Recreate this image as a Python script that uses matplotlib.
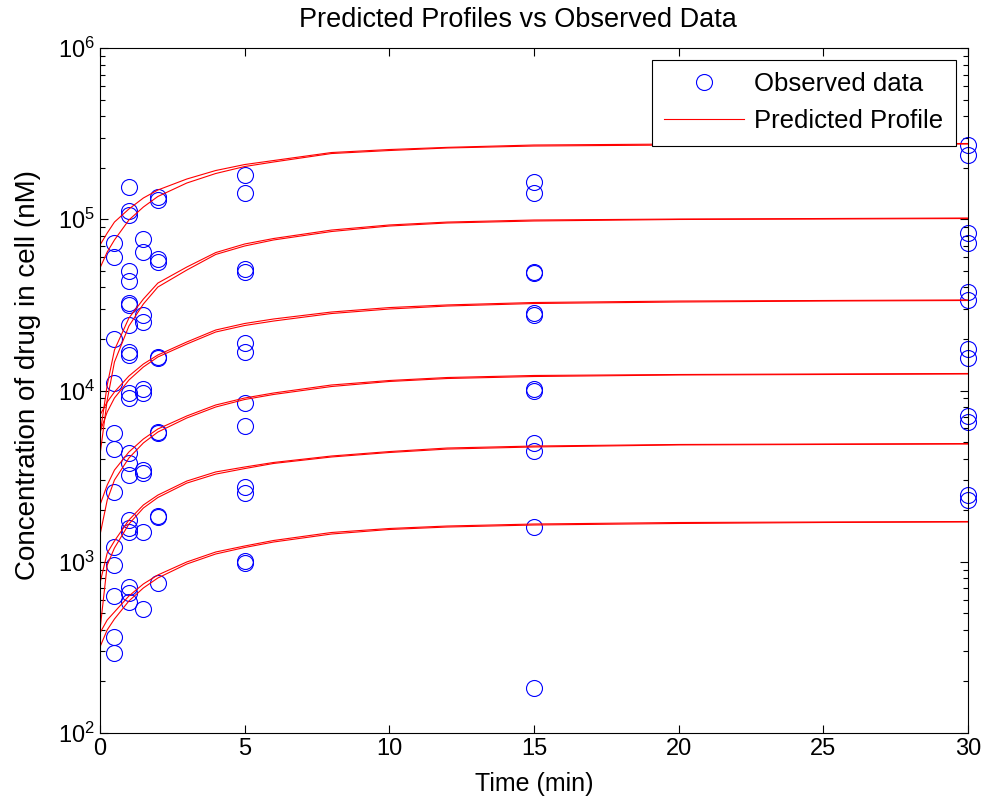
import numpy as np
import matplotlib
matplotlib.use("Agg")
import matplotlib.pyplot as plt

plt.rcParams['font.family'] = ['Liberation Sans', 'DejaVu Sans']
plt.rcParams['mathtext.fontset'] = 'custom'
plt.rcParams['mathtext.rm'] = 'Liberation Sans'
plt.rcParams['mathtext.it'] = 'Liberation Sans'

# observed concentrations (nM) at each sampling time (min)
obs_times = [0.5, 1, 1.5, 2, 5, 15, 30]
conc_t05 = [7.27e4, 6.02e4, 2.00e4, 1.106e4, 5.65e3, 4.55e3, 2.555e3, 1.22e3,
            957, 631, 364, 293]
conc_t1 = [1.543e5, 1.117e5, 1.059e5, 4.99e4, 4.36e4, 3.24e4, 3.16e4, 2.41e4,
           1.678e4, 1.612e4, 9.67e3, 9.04e3, 4.32e3, 3.77e3, 3.21e3, 1.753e3,
           1.574e3, 1.492e3, 712, 657, 582]
conc_t15 = [7.67e4, 6.44e4, 2.76e4, 2.51e4, 1.02e4, 9.67e3, 3.43e3, 3.30e3,
            1.492e3, 530]
conc_t2 = [1.349e5, 1.295e5, 5.86e4, 5.63e4, 1.569e4, 1.54e4, 5.72e3, 5.65e3,
           1.85e3, 1.825e3, 751]
conc_t5 = [1.813e5, 1.423e5, 5.12e4, 4.92e4, 1.894e4, 1.678e4, 8.45e3, 6.20e3,
           2.73e3, 2.52e3, 1.01e3, 983]
conc_t15b = [1.650e5, 1.423e5, 4.92e4, 4.86e4, 2.84e4, 2.76e4, 1.02e4, 1.0e4,
             4.94e3, 4.43e3, 1.595e3, 183]
conc_t30 = [2.714e5, 2.372e5, 8.31e4, 7.27e4, 3.76e4, 3.38e4, 1.747e4, 1.548e4,
            7.10e3, 6.55e3, 2.45e3, 2.29e3]
obs_conc = [conc_t05, conc_t1, conc_t15, conc_t2, conc_t5, conc_t15b, conc_t30]

# predicted profiles, two model runs (a, b) for each of six dose levels
pred_t = [0, 0.25, 0.5, 1, 1.5, 2, 3, 4, 5, 6, 8, 10, 12, 15, 20, 25, 30]
pred_a = [
    [7.07e4, 8.31e4, 9.63e4, 1.148e5, 1.331e5, 1.482e5, 1.718e5, 1.926e5, 2.087e5,
     2.203e5, 2.453e5, 2.554e5, 2.630e5, 2.714e5, 2.750e5, 2.762e5, 2.769e5],
    [5.50e3, 1.077e4, 1.724e4, 2.65e4, 3.42e4, 4.24e4, 5.26e4, 6.39e4, 7.17e4,
     7.72e4, 8.65e4, 9.26e4, 9.63e4, 9.90e4, 1.003e5, 1.010e5, 1.017e5],
    [7.19e3, 8.57e3, 9.80e3, 1.215e4, 1.428e4, 1.612e4, 1.920e4, 2.256e4, 2.462e4,
     2.616e4, 2.873e4, 3.05e4, 3.16e4, 3.265e4, 3.33e4, 3.354e4, 3.38e4],
    [2.145e3, 2.806e3, 3.43e3, 4.375e3, 5.21e3, 5.96e3, 7.10e3, 8.23e3, 9.04e3,
     9.67e3, 1.077e4, 1.144e4, 1.191e4, 1.224e4, 1.240e4, 1.249e4, 1.257e4],
    [751, 1.125e3, 1.322e3, 1.753e3, 2.145e3, 2.45e3, 2.96e3, 3.345e3, 3.575e3,
     3.80e3, 4.145e3, 4.40e3, 4.615e3, 4.74e3, 4.84e3, 4.87e3, 4.90e3],
    [384, 457, 509, 631, 742, 837, 997, 1.140e3, 1.236e3, 1.331e3, 1.482e3,
     1.564e3, 1.617e3, 1.661e3, 1.695e3, 1.707e3, 1.718e3],
]
pred_b = [
    [5.19e4, 6.44e4, 7.57e4, 9.90e4, 1.179e5, 1.358e5, 1.628e5, 1.850e5, 2.032e5,
     2.160e5, 2.420e5, 2.520e5, 2.607e5, 2.677e5, 2.714e5, 2.732e5, 2.750e5],
    [4.20e3, 8.80e3, 1.467e4, 2.38e4, 3.20e4, 4.02e4, 5.05e4, 6.23e4, 6.98e4,
     7.57e4, 8.48e4, 9.13e4, 9.51e4, 9.77e4, 9.97e4, 1.003e5, 1.010e5],
    [5.72e3, 7.49e3, 9.04e3, 1.151e4, 1.372e4, 1.569e4, 1.868e4, 2.196e4, 2.396e4,
     2.545e4, 2.815e4, 2.991e4, 3.114e4, 3.221e4, 3.287e4, 3.33e4, 3.354e4],
    [1.433e3, 2.29e3, 3.00e3, 4.035e3, 4.94e3, 5.72e3, 6.91e3, 8.01e3, 8.86e3,
     9.48e3, 1.055e4, 1.129e4, 1.175e4, 1.207e4, 1.232e4, 1.240e4, 1.249e4],
    [400, 957, 1.203e3, 1.661e3, 2.06e3, 2.372e3, 2.88e3, 3.25e3, 3.50e3,
     3.75e3, 4.09e3, 4.345e3, 4.55e3, 4.68e3, 4.81e3, 4.84e3, 4.87e3],
    [318, 400, 463, 590, 703, 804, 970, 1.110e3, 1.211e3, 1.304e3, 1.452e3,
     1.543e3, 1.595e3, 1.639e3, 1.673e3, 1.695e3, 1.707e3],
]

fig = plt.figure(figsize=(9.86, 8.07), dpi=100)
ax = fig.add_axes([0.1014, 0.0917, 0.8803, 0.8488])

for i, t in enumerate(obs_times):
    c = obs_conc[i]
    ax.plot([t] * len(c), c, 'o', mfc='none', mec=(0, 0, 1), ms=11.5, mew=0.8,
            label='Observed data' if i == 0 else None, clip_on=False)

for i in range(len(pred_a)):
    ax.plot(pred_t, pred_a[i], '-', color=(1, 0, 0), lw=0.8,
            label='Predicted Profile' if i == 0 else None)
    ax.plot(pred_t, pred_b[i], '-', color=(1, 0, 0), lw=0.8)

ax.set_yscale('log')
ax.set_xlim(0, 30)
ax.set_ylim(1e2, 1e6)
ax.set_xticks([0, 5, 10, 15, 20, 25, 30])
ax.tick_params(which='both', direction='in', top=True, right=True,
               labelsize=17, width=0.8)
ax.tick_params(which='major', length=6)
ax.tick_params(which='minor', length=3.5)
for s in ax.spines.values():
    s.set_linewidth(0.8)

ax.set_xlabel('Time (min)', fontsize=18, labelpad=9)
ax.set_ylabel('Concentration of drug in cell (nM)', fontsize=20, labelpad=12)
ax.yaxis.label.set_y(0.522)
ax.set_title('Predicted Profiles vs Observed Data', fontsize=19.5, pad=15, x=0.482)

leg = ax.legend(loc='upper right', fontsize=18.5, fancybox=False, edgecolor='black',
                framealpha=1, handlelength=3.1, handletextpad=0.4,
                labelspacing=0.48, borderpad=0.5, borderaxespad=0.45, numpoints=1)
leg.get_frame().set_linewidth(0.8)

fig.savefig('out.png', dpi=100)
